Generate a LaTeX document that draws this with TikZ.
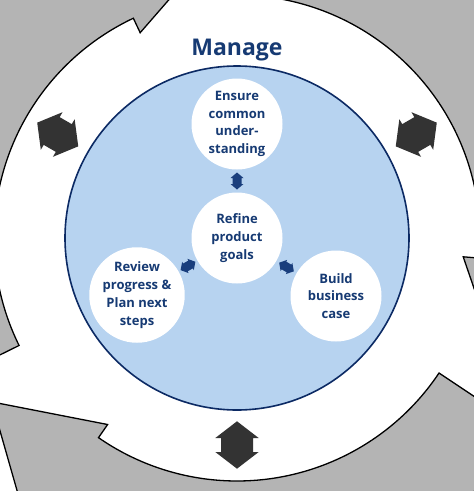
\documentclass[tikz,border=0pt]{standalone}
\usepackage{fontspec}
\setmainfont{Open Sans}
\usetikzlibrary{calc}
\definecolor{navytext}{RGB}{22,58,115}
\definecolor{navyline}{RGB}{12,42,100}
\definecolor{lightblue}{RGB}{183,211,240}
\definecolor{smallarrow}{RGB}{25,62,125}
\definecolor{darkarrow}{RGB}{51,51,51}
\definecolor{ringgray}{RGB}{180,180,180}
\tikzset{
  grayarrow/.style={fill=ringgray, draw=black, line width=1.3pt, line join=miter},
  bub/.style={circle, fill=white, minimum size=91pt, inner sep=0pt, text=navytext,
    font=\bfseries\fontsize{13}{17.8}\selectfont, align=center},
  sdbl/.pic={\fill[smallarrow] (-8.5,0) -- (-3,6.5) -- (-3,4.5) -- (3,4.5) -- (3,6.5) -- (8.5,0)
      -- (3,-6.5) -- (3,-4.5) -- (-3,-4.5) -- (-3,-6.5) -- cycle;},
  bdbl/.pic={\fill[darkarrow] (-23.7,0) -- (-7,21.7) -- (-7,16) -- (7,16) -- (7,21.7) -- (23.7,0)
      -- (7,-21.7) -- (7,-16) -- (-7,-16) -- (-7,-21.7) -- cycle;}
}
\begin{document}
\begin{tikzpicture}[x=1pt,y=-1pt]
\useasboundingbox (0,0) rectangle (474,491);
\fill[white] (0,0) rectangle (474,491);
% gray curved arrows
\begin{scope}
  \clip (0,0) rectangle (474,491);
  \begin{scope}[shift={(237,238)}, y=1pt]
    \foreach \t in {206.25, 86.25, -33.75} {
      \pgfmathsetmacro\h{\t-91}
      \pgfmathsetmacro\p{\t-112.5}
      \draw[grayarrow] (\t:243) arc[start angle=\t, end angle=\h, radius=243]
        -- (\h:227) -- (\p:295) -- (\h:363) -- (\h:347)
        arc[start angle=\h, end angle=\t, radius=347] -- cycle;
    }
  \end{scope}
\end{scope}
% dark double arrows
\begin{scope}[shift={(237,238)}, y=1pt]
  \pic[rotate=150] at (150:207) {bdbl};
  \pic[rotate=30] at (30:207) {bdbl};
  \pic[rotate=90] at (270:207) {bdbl};
\end{scope}
% main circle
\node[circle, fill=lightblue, draw=navyline, line width=1.6pt, minimum size=344pt, inner sep=0pt] (m) at (237,238) {};
\node[text=navytext, font=\bfseries\fontsize{23}{23}\selectfont, anchor=base] (title) at (237,55) {Manage};
% bubbles
\node[bub] (t) at (237,124) {Ensure\\common\\under-\\standing};
\node[bub] (c) at (237,238) {Refine\\product\\goals};
\node[bub] (l) at (137,295) {Review\\progress \&\\Plan next\\steps};
\node[bub] (r) at (336,296) {Build\\business\\case};
% small connectors
\path (c) -- (t) pic[pos=0.5, sloped] {sdbl};
\path (c) -- (l) pic[pos=0.5, sloped] {sdbl};
\path (c) -- (r) pic[pos=0.5, sloped] {sdbl};
\end{tikzpicture}
\end{document}
